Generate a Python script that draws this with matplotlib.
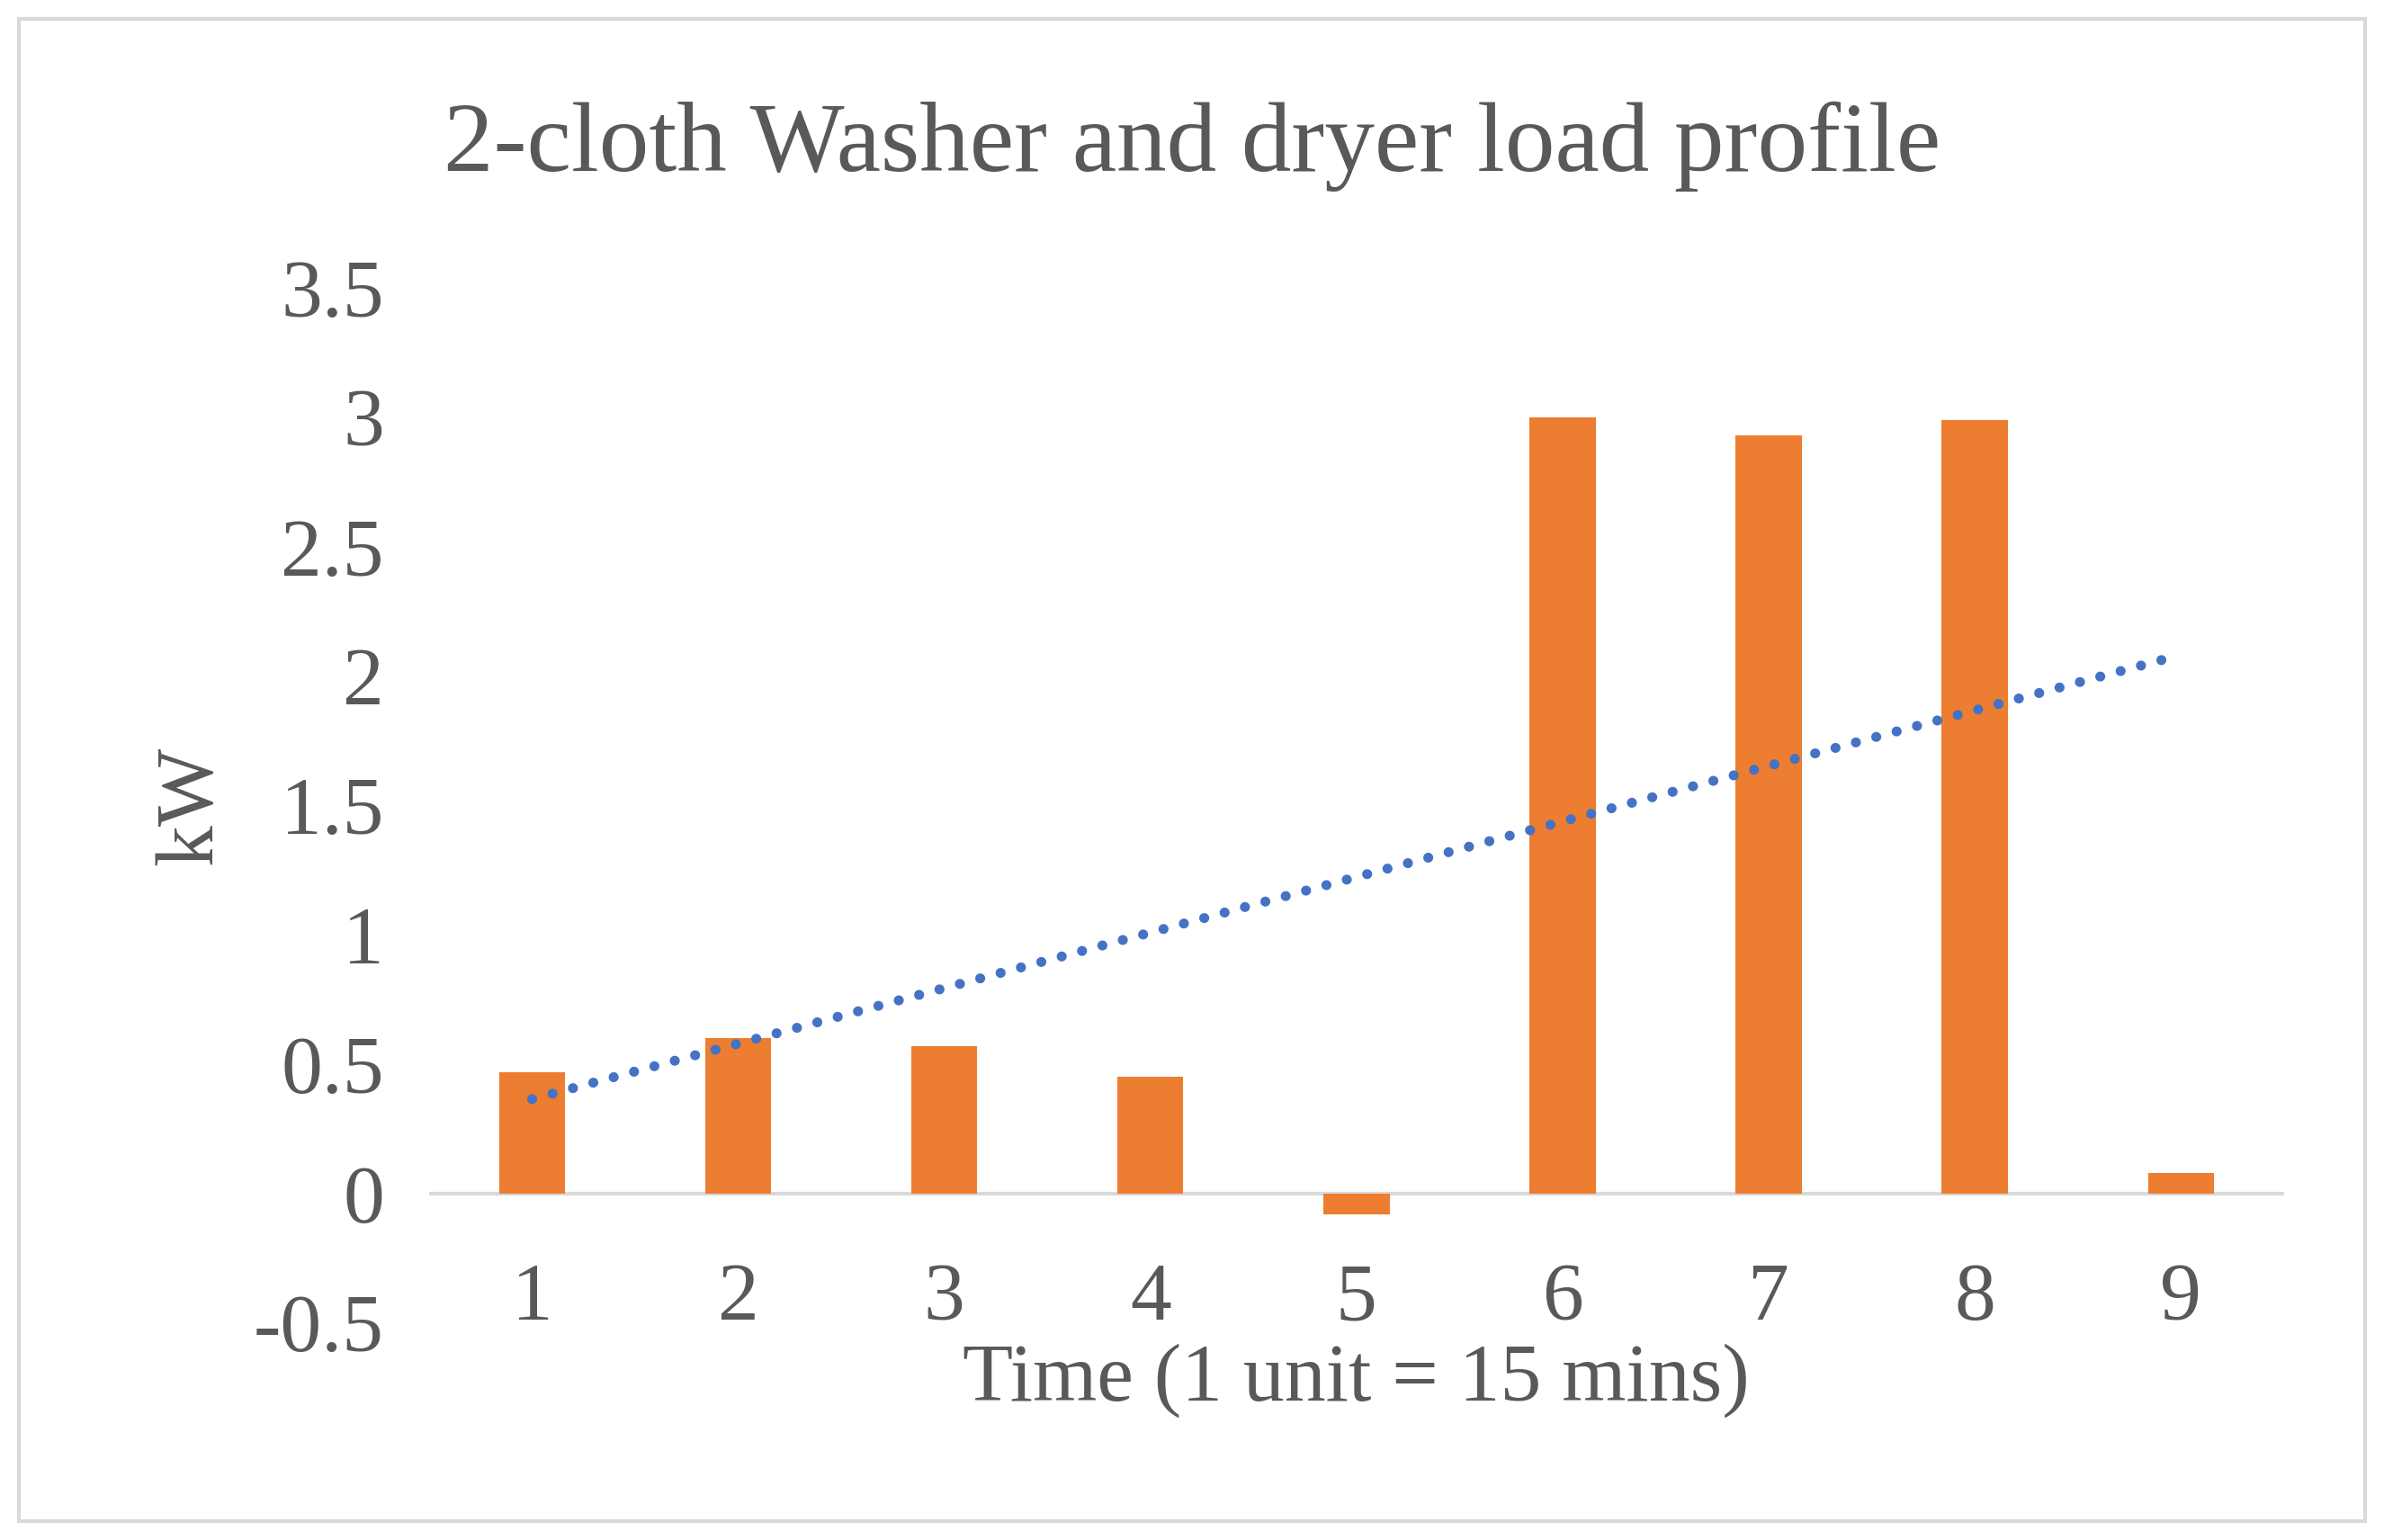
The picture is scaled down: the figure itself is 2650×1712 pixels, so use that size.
import matplotlib
matplotlib.use("Agg")
import matplotlib.pyplot as plt
import numpy as np
from matplotlib.patches import Rectangle

categories = [1, 2, 3, 4, 5, 6, 7, 8, 9]
values = [0.47, 0.60, 0.57, 0.45, -0.08, 3.0, 2.93, 2.99, 0.08]
yticks = [-0.5, 0, 0.5, 1, 1.5, 2, 2.5, 3, 3.5]

plt.rcParams['font.family'] = ['Liberation Serif', 'DejaVu Serif']
fig = plt.figure(figsize=(26.5, 17.12), dpi=100)
ax = fig.add_axes([0.18, 0.141, 0.778, 0.672])
x = np.array(categories)
ax.bar(x, values, width=0.32, color='#ED7D31', zorder=2)
k, b = np.polyfit(x, values, 1)
ax.plot(x, k * x + b, linestyle=(0, (0.01, 2.1)), linewidth=8, color='#4472C4',
        dash_capstyle='round', zorder=3)
ax.set_xlim(0.5, 9.5)
ax.set_ylim(-0.5, 3.5)
ax.set_yticks(yticks)
ax.set_yticklabels([f"{t:g}" for t in yticks])
ax.set_xticks(x)
for s in ax.spines.values():
    s.set_visible(False)
ax.axhline(0, color='#D9D9D9', linewidth=3, zorder=1)
ax.tick_params(length=0, labelsize=66, colors='#595959')
ax.tick_params(axis='y', pad=36)
ax.tick_params(axis='x', pad=-48)
ax.set_xlabel('Time (1 unit = 15 mins)', fontsize=66, color='#595959', labelpad=5)
ax.set_ylabel('kW', fontsize=66, color='#595959', labelpad=20)
fig.text(0.5, 0.905, '2-cloth Washer and dryer load profile', fontsize=80,
         color='#595959', ha='center', va='center')
fig.patches.append(Rectangle((0.008, 0.012), 0.984, 0.976, transform=fig.transFigure,
                             fill=False, edgecolor='#D9D9D9', linewidth=3))
fig.savefig('out.png', dpi=100)
